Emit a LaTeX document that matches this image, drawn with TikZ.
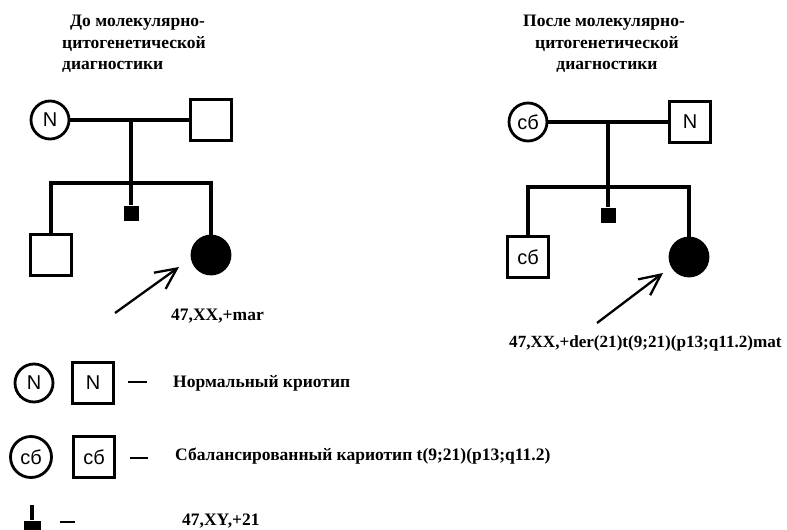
\documentclass[tikz,border=0pt]{standalone}
\usepackage{fontspec}
\setmainfont{Liberation Serif}
\newfontfamily\symfont{Liberation Sans}
\usetikzlibrary{arrows.meta}
\begin{document}
\begin{tikzpicture}[x=1pt,y=-1pt,
  fem/.style={circle, draw, line width=2.8pt, minimum size=38pt, inner sep=0pt,
    font=\symfont\fontsize{20}{20}\selectfont},
  mal/.style={rectangle, draw, line width=2.8pt, minimum size=41pt, inner sep=0pt,
    font=\symfont\fontsize{20}{20}\selectfont},
  tinysq/.style={rectangle, fill, minimum size=15pt, inner sep=0pt},
  link/.style={line width=3.3pt},
  lbl/.style={font=\bfseries\fontsize{17.5}{21}\selectfont, inner sep=0pt},
  dashline/.style={line width=2.8pt},
  pointer/.style={line width=2.3pt, -{Straight Barb[length=21pt,width=20pt,line width=2.3pt]}}]
\useasboundingbox (0,0) rectangle (787,530);

% titles
\node[lbl, anchor=base west] (t1a) at (70,27) {До молекулярно-};
\node[lbl, anchor=base west] (t1b) at (62,48) {цитогенетической};
\node[lbl, anchor=base west] (t1c) at (62,69) {диагностики};
\node[lbl, anchor=base] (t2a) at (604,27) {После молекулярно-};
\node[lbl, anchor=base] (t2b) at (607,48) {цитогенетической};
\node[lbl, anchor=base] (t2c) at (607,69) {диагностики};

% left pedigree
\node[fem] (lm) at (50,120) {N};
\node[mal] (lf) at (211,120) {};
\draw[link] (lm) -- (lf);
\coordinate (lc) at (131,120);
\coordinate (ls) at (131,183);
\draw[link] (lc) -- (ls);
\node[mal] (ls1) at (51,255) {};
\node[fem, fill] (ld) at (211,255) {};
\node[tinysq] (lx) at (131,213) {};
\draw[link] (ls1.north) |- (ls) -| (ld.north);
\draw[link] (ls) -- (lx);
\coordinate (la0) at (115,313);
\coordinate (la1) at (179,267);
\draw[pointer] (la0) -- (la1);
\node[lbl, anchor=base west] (llab) at (171,320) {47,XX,+mar};

% right pedigree
\node[fem] (rm) at (528,122) {сб};
\node[mal] (rf) at (690,122) {N};
\draw[link] (rm) -- (rf);
\coordinate (rc) at (608,122);
\coordinate (rs) at (608,187);
\draw[link] (rc) -- (rs);
\node[mal] (rs1) at (528,257) {сб};
\node[fem, fill] (rd) at (689,257) {};
\node[tinysq] (rx) at (608,215) {};
\draw[link] (rs1.north) |- (rs) -| (rd.north);
\draw[link] (rs) -- (rx);
\coordinate (ra0) at (597,323);
\coordinate (ra1) at (663,273);
\draw[pointer] (ra0) -- (ra1);
\node[lbl, font=\bfseries\fontsize{17.1}{21}\selectfont, anchor=base west] (rlab) at (509,347) {47,XX,+der(21)t(9;21)(p13;q11.2)mat};

% legend
\node[fem] (k1) at (34,383) {N};
\node[mal] (k2) at (93,383) {N};
\coordinate (k3a) at (128,382);
\coordinate (k3b) at (147,382);
\draw[dashline] (k3a) -- (k3b);
\node[lbl, anchor=base west] (k4) at (173,387) {Нормальный криотип};

\node[fem, minimum size=41pt] (k5) at (31,457) {сб};
\node[mal] (k6) at (94,457) {сб};
\coordinate (k7a) at (130,458);
\coordinate (k7b) at (148,458);
\draw[dashline] (k7a) -- (k7b);
\node[lbl, anchor=base west] (k8) at (175,460) {Сбалансированный кариотип t(9;21)(p13;q11.2)};

\coordinate (k9t) at (32,505);
\node[tinysq, minimum size=17pt] (k9) at (32,529) {};
\draw[link] (k9t) -- (k9);
\coordinate (k10a) at (60,522);
\coordinate (k10b) at (75,522);
\draw[dashline] (k10a) -- (k10b);
\node[lbl, anchor=base west] (k11) at (182,525) {47,XY,+21};
\end{tikzpicture}
\end{document}
